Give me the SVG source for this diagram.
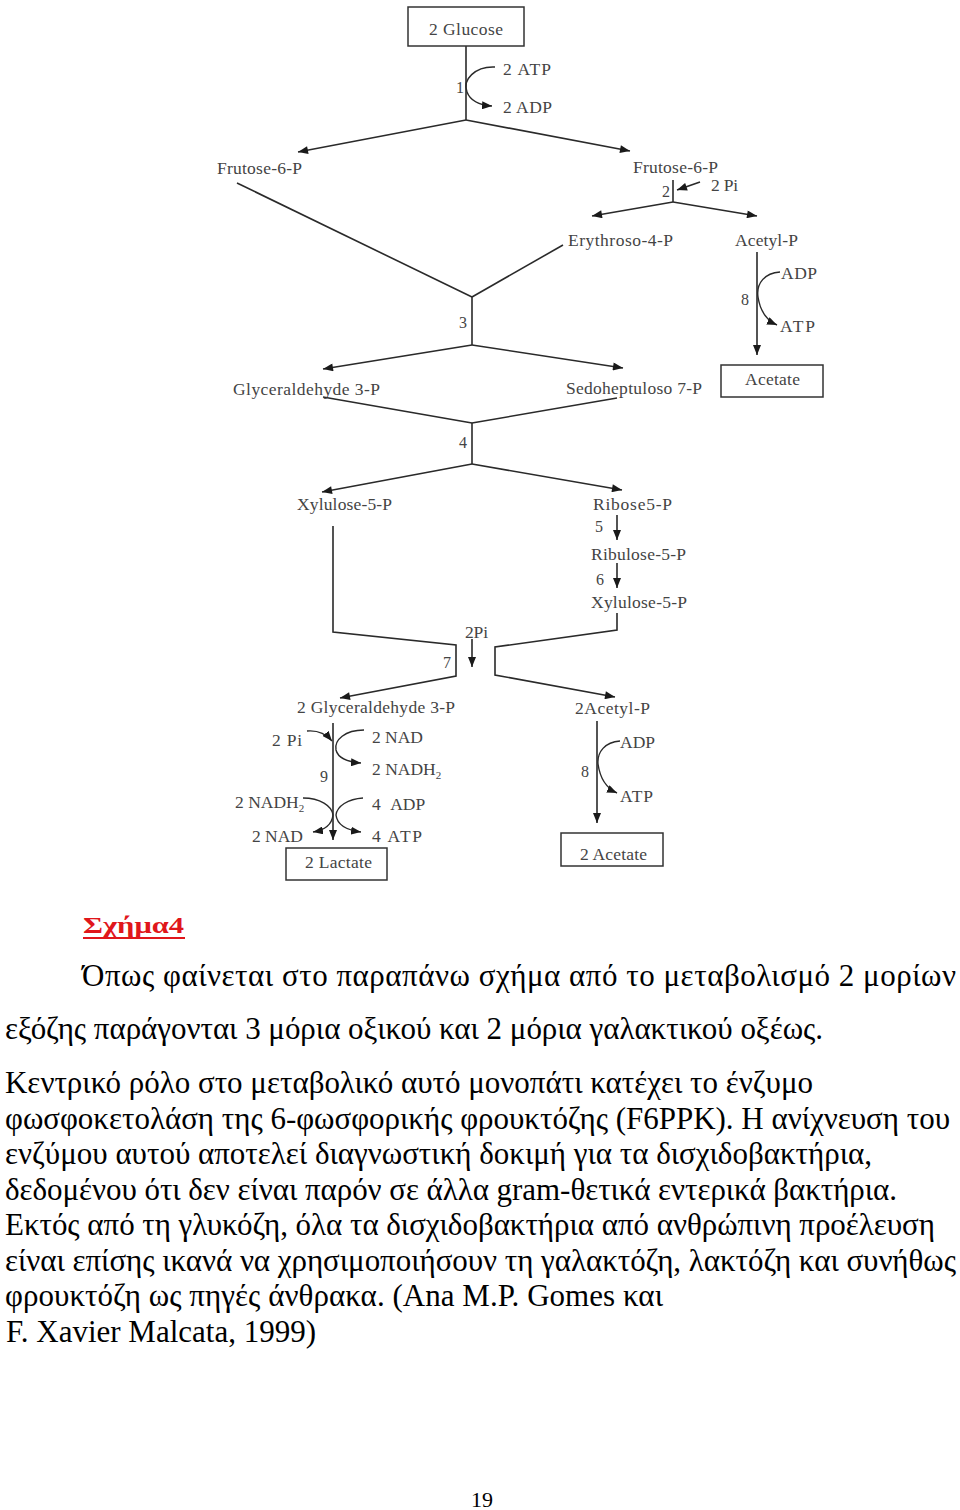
<svg xmlns="http://www.w3.org/2000/svg" width="960" height="1510" viewBox="0 0 960 1510">
<defs>
<style>
.lbl{font-family:"Liberation Serif","Times New Roman",serif;font-size:17.5px;fill:#444}
.num{font-family:"Liberation Serif","Times New Roman",serif;font-size:16px;fill:#444;text-anchor:end}
.box{fill:#fff;stroke:#333;stroke-width:1.5}
.ln{fill:none;stroke:#2a2a2a;stroke-width:1.6}
.ar{fill:none;stroke:#2a2a2a;stroke-width:1.6;marker-end:url(#ah)}
.cv{fill:none;stroke:#2a2a2a;stroke-width:1.4;marker-end:url(#ah2)}
.body{font-family:"Liberation Serif","Times New Roman",serif;font-size:31px;fill:#000}
</style>
<marker id="ah" viewBox="0 0 10 8" refX="10" refY="4" markerWidth="11" markerHeight="8" markerUnits="userSpaceOnUse" orient="auto"><path d="M0,0 L10,4 L0,8 z" fill="#1a1a1a"/></marker>
<marker id="ah2" viewBox="0 0 10 8" refX="10" refY="4" markerWidth="10" markerHeight="8" markerUnits="userSpaceOnUse" orient="auto"><path d="M0,0 L10,4 L0,8 z" fill="#1a1a1a"/></marker>
</defs>
<rect width="960" height="1510" fill="#fff"/>

<g id="connectors">
<path class="ln" d="M466,46 V120"/>
<path class="ar" d="M466,120 L298,152"/>
<path class="ar" d="M466,120 L630,151"/>
<path class="cv" d="M495,67 C475,66 462,80 467,92 C470,100 478,105 492,106"/>
<path class="ln" d="M673,180 V202"/>
<path class="ar" d="M673,202 L592,216"/>
<path class="ar" d="M673,202 L757,216"/>
<path class="ar" d="M700,182 L677,190"/>
<path class="ln" d="M237,183 L472,297"/>
<path class="ln" d="M563,245 L472,297"/>
<path class="ln" d="M472,297 V345"/>
<path class="ar" d="M472,345 L323,369"/>
<path class="ar" d="M472,345 L623,368"/>
<path class="ar" d="M757,252 V355"/>
<path class="cv" d="M780,272 C765,273 756,283 758,297 C760,310 766,320 777,325"/>
<path class="ln" d="M323,397 L472,423"/>
<path class="ln" d="M617,398 L472,423"/>
<path class="ln" d="M472,423 V464"/>
<path class="ar" d="M472,464 L322,492"/>
<path class="ar" d="M472,464 L622,490"/>
<path class="ar" d="M617,515 V540"/>
<path class="ar" d="M617,563 V588"/>
<path class="ar" d="M333,526 V632 L456,645 V676 L340,698"/>
<path class="ar" d="M617,613 V630 L495,647 V675 L615,697"/>
<path class="ar" d="M472,639 V667"/>
<path class="ar" d="M333,723 V840" style="stroke:#555;stroke-width:2"/>
<path class="cv" d="M307,731 C318,730 326,734 332,741"/>
<path class="cv" d="M364,730 C345,730 334,740 336,750 C338,758 348,762 361,763"/>
<path class="cv" d="M303,798 C320,798 332,806 333,815 C332,824 325,830 313,832"/>
<path class="cv" d="M363,798 C348,799 337,806 336,815 C337,824 346,830 361,832"/>
<path class="ar" d="M597,721 V823"/>
<path class="cv" d="M620,741 C605,742 597,752 598,764 C600,778 606,788 617,793"/>
</g>

<g id="n-glucose"><rect class="box" x="408" y="7" width="116" height="39"/><text class="lbl" x="429" y="35" textLength="74">2 Glucose</text></g>
<g id="n-step1"><text class="num" x="464" y="93">1</text></g>
<g id="n-atp1"><text class="lbl" x="503" y="75" textLength="48">2 ATP</text></g>
<g id="n-adp1"><text class="lbl" x="503" y="113" textLength="49">2 ADP</text></g>
<g id="n-f6p-l"><text class="lbl" x="217" y="174" textLength="85">Frutose-6-P</text></g>
<g id="n-f6p-r"><text class="lbl" x="633" y="173" textLength="85">Frutose-6-P</text></g>
<g id="n-step2"><text class="num" x="670" y="197">2</text></g>
<g id="n-pi2"><text class="lbl" x="711" y="191" textLength="27">2 Pi</text></g>
<g id="n-e4p"><text class="lbl" x="568" y="246" textLength="105">Erythroso-4-P</text></g>
<g id="n-acp"><text class="lbl" x="735" y="246" textLength="63">Acetyl-P</text></g>
<g id="n-step8a"><text class="num" x="749" y="305">8</text></g>
<g id="n-adp8"><text class="lbl" x="781" y="279" textLength="36">ADP</text></g>
<g id="n-atp8"><text class="lbl" x="780" y="332" textLength="35">ATP</text></g>
<g id="n-acetate"><rect class="box" x="721" y="365" width="102" height="32"/><text class="lbl" x="745" y="385" textLength="55">Acetate</text></g>
<g id="n-step3"><text class="num" x="467" y="328">3</text></g>
<g id="n-g3p"><text class="lbl" x="233" y="395" textLength="147">Glyceraldehyde 3-P</text></g>
<g id="n-s7p"><text class="lbl" x="566" y="394" textLength="136">Sedoheptuloso 7-P</text></g>
<g id="n-step4"><text class="num" x="467" y="448">4</text></g>
<g id="n-x5p-l"><text class="lbl" x="297" y="510" textLength="95">Xylulose-5-P</text></g>
<g id="n-r5p"><text class="lbl" x="593" y="510" textLength="79">Ribose5-P</text></g>
<g id="n-step5"><text class="num" x="603" y="532">5</text></g>
<g id="n-ru5p"><text class="lbl" x="591" y="560" textLength="95">Ribulose-5-P</text></g>
<g id="n-step6"><text class="num" x="604" y="585">6</text></g>
<g id="n-x5p-r"><text class="lbl" x="591" y="608" textLength="96">Xylulose-5-P</text></g>
<g id="n-2pi7"><text class="lbl" x="465" y="638" textLength="23">2Pi</text></g>
<g id="n-step7"><text class="num" x="451" y="668">7</text></g>
<g id="n-2g3p"><text class="lbl" x="297" y="713" textLength="158">2 Glyceraldehyde 3-P</text></g>
<g id="n-2acp"><text class="lbl" x="575" y="714" textLength="75">2Acetyl-P</text></g>
<g id="n-pi9"><text class="lbl" x="272" y="746" textLength="30">2 Pi</text></g>
<g id="n-nad9"><text class="lbl" x="372" y="743" textLength="51">2 NAD</text></g>
<g id="n-nadh9"><text class="lbl" x="372" y="775">2 NADH<tspan font-size="11" dy="4">2</tspan></text></g>
<g id="n-step9"><text class="num" x="328" y="782">9</text></g>
<g id="n-nadh9l"><text class="lbl" x="235" y="808">2 NADH<tspan font-size="11" dy="4">2</tspan></text></g>
<g id="n-nad9l"><text class="lbl" x="252" y="842" textLength="51">2 NAD</text></g>
<g id="n-adp9"><text class="lbl" x="372" y="810">4 <tspan dx="6">ADP</tspan></text></g>
<g id="n-atp9"><text class="lbl" x="372" y="842" textLength="50">4 ATP</text></g>
<g id="n-lactate"><rect class="box" x="286" y="848" width="101" height="32"/><text class="lbl" x="305" y="868" textLength="67">2 Lactate</text></g>
<g id="n-step8b"><text class="num" x="589" y="777">8</text></g>
<g id="n-adp8b"><text class="lbl" x="620" y="748" textLength="35">ADP</text></g>
<g id="n-atp8b"><text class="lbl" x="620" y="802" textLength="33">ATP</text></g>
<g id="n-2acetate"><rect class="box" x="561" y="833" width="102" height="33"/><text class="lbl" x="580" y="860" textLength="67">2 Acetate</text></g>

<g id="caption">
<text x="83" y="933" font-family="Liberation Serif, Times New Roman, serif" font-size="24" font-weight="bold" fill="#e0161b" textLength="101" lengthAdjust="spacingAndGlyphs">Σχήμα4</text>
<rect x="83" y="937" width="102" height="2" fill="#e0161b"/>
<text class="body" x="82" y="986" textLength="874">Όπως φαίνεται στο παραπάνω σχήμα από το μεταβολισμό 2 μορίων</text>
<text class="body" x="5" y="1039" textLength="818">εξόζης παράγονται 3 μόρια οξικού και 2 μόρια γαλακτικού οξέως.</text>
<text class="body" x="5" y="1093" textLength="808">Κεντρικό ρόλο στο μεταβολικό αυτό μονοπάτι κατέχει το ένζυμο</text>
<text class="body" x="5" y="1128.5" textLength="945">φωσφοκετολάση της 6-φωσφορικής φρουκτόζης (F6PPK). Η ανίχνευση του</text>
<text class="body" x="5" y="1164" textLength="867">ενζύμου αυτού αποτελεί διαγνωστική δοκιμή για τα δισχιδοβακτήρια,</text>
<text class="body" x="5" y="1199.5" textLength="892">δεδομένου ότι δεν είναι παρόν σε άλλα gram-θετικά εντερικά βακτήρια.</text>
<text class="body" x="5" y="1235" textLength="930">Εκτός από τη γλυκόζη, όλα τα δισχιδοβακτήρια από ανθρώπινη προέλευση</text>
<text class="body" x="5" y="1270.5" textLength="951">είναι επίσης ικανά να χρησιμοποιήσουν τη γαλακτόζη, λακτόζη και συνήθως</text>
<text class="body" x="5" y="1306" textLength="658">φρουκτόζη ως πηγές άνθρακα. (Ana M.P. Gomes και</text>
<text class="body" x="6" y="1341.5" textLength="310">F. Xavier Malcata, 1999)</text>
<text x="482" y="1507" font-family="Liberation Serif, Times New Roman, serif" font-size="22" text-anchor="middle" fill="#000">19</text>
</g>
</svg>
